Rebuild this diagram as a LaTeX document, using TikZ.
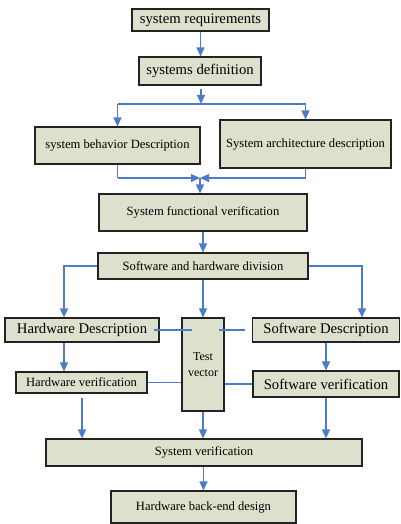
\documentclass[tikz,border=0pt]{standalone}
\usepackage{fontspec}
\setmainfont{Liberation Serif}
\usetikzlibrary{arrows.meta,calc}
\definecolor{boxfill}{HTML}{DDE0CC}
\definecolor{linkblue}{HTML}{4A7CC8}
\definecolor{boxline}{HTML}{222222}
\begin{document}
\begin{tikzpicture}[x=1pt,y=-1pt,
  box/.style={draw=boxline, fill=boxfill, line width=1.1pt, inner sep=1pt, align=center},
  small/.style={font=\fontsize{12.6}{14}\selectfont},
  big/.style={font=\fontsize{14.7}{16}\selectfont},
  link/.style={draw=linkblue, line width=1.3pt},
  arr/.style={link, -{Triangle[length=9pt,width=8pt]}}]
\useasboundingbox (0,0) rectangle (400,524);
\node[box,big,minimum width=137pt,minimum height=22pt] (req) at (200.5,20) {system requirements};
\node[box,big,minimum width=122pt,minimum height=28pt] (def) at (200,71) {systems definition};
\node[box,small,minimum width=165pt,minimum height=37pt] (beh) at (117.5,145.5) {system behavior Description};
\node[box,small,minimum width=171pt,minimum height=48pt] (arch) at (305.5,144) {System architecture description};
\node[box,small,minimum width=208pt,minimum height=37pt] (func) at (203,212.5) {System functional verification};
\node[box,small,minimum width=210pt,minimum height=26pt] (div) at (203,266) {Software and hardware division};
\node[box,big,minimum width=154pt,minimum height=24pt] (hd) at (82,330) {Hardware Description};
\node[box,font=\fontsize{12}{16}\selectfont,minimum width=42pt,minimum height=93pt] (tv) at (203,364.5) {Test\\vector};
\node[box,big,minimum width=147pt,minimum height=24pt] (sd) at (326,330) {Software Description};
\node[box,small,minimum width=131pt,minimum height=21pt] (hv) at (81.5,382.5) {Hardware verification};
\node[box,big,minimum width=146pt,minimum height=26pt] (sv) at (326,384) {Software verification};
\node[box,small,minimum width=316pt,minimum height=27pt] (sysv) at (204,452.5) {System verification};
\node[box,small,minimum width=185pt,minimum height=32pt] (be) at (203.5,507) {Hardware back-end design};

\draw[arr] (req.south) -- (req.south |- def.north);
\coordinate (split) at (201,104);
\draw[arr] ($(def.south)+(1,3)$) -- (split);
\draw[link] (beh.north |- split) -- (arch.north |- split);
\draw[arr] (beh.north |- split) -- (beh.north);
\draw[arr] (arch.north |- split) -- (arch.north);
\coordinate (join) at (200,178);
\draw[link] (beh.south) -- (beh.south |- join);
\draw[arr] (beh.south |- join) -- (join);
\draw[link] (arch.south) -- (arch.south |- join);
\draw[arr] (arch.south |- join) -- (join);
\draw[arr] (join) -- (join |- func.north);
\draw[arr] (func.south) -- (div.north);
\draw[arr] (div.west) -| ($(hd.north)+(-18,0)$);
\draw[arr] (div.east) -| ($(sd.north)+(36,0)$);
\draw[arr] (div.south) -- (tv.north);
\draw[link] ($(hd.east)+(-6,0)$) -- ++(38,0);
\draw[link] ($(sd.west)+(-7,0)$) -- ++(-26,0);
\draw[arr] ($(hd.south)+(-18,0)$) -- ($(hv.north)+(-17.5,0)$);
\draw[arr] (sd.south) -- (sv.north);
\draw[link] (hv.east) -- (hv.east -| tv.west);
\draw[link] (tv.east |- sv.west) -- (sv.west);
\coordinate (hvout) at ($(hv.south)+(0.5,4)$);
\draw[arr] (hvout) -- (hvout |- sysv.north);
\draw[arr] (tv.south) -- (tv.south |- sysv.north);
\draw[arr] (sv.south) -- (sv.south |- sysv.north);
\draw[arr] (be.north |- sysv.south) -- (be.north);
\end{tikzpicture}
\end{document}
